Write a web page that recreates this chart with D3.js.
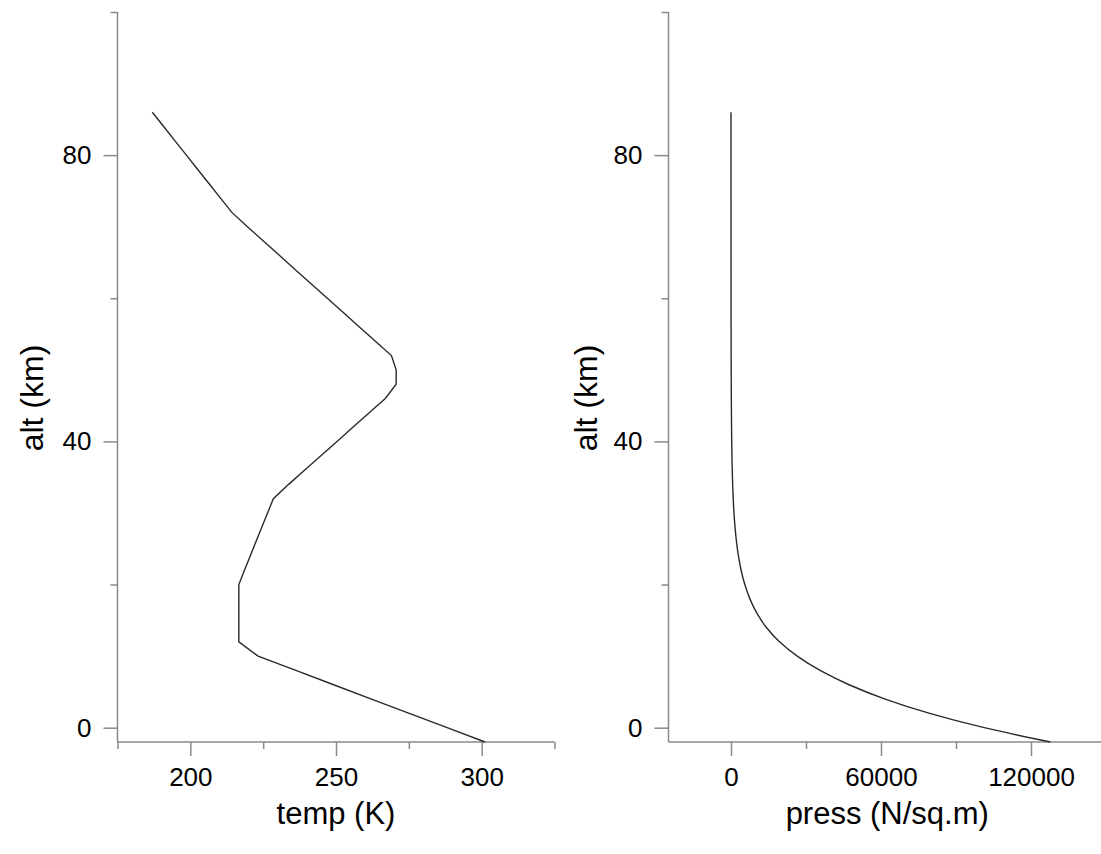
<!DOCTYPE html>
<html>
<head>
<meta charset="utf-8">
<script src="https://cdn.jsdelivr.net/npm/d3@7"></script>
<style>
  html, body { margin: 0; padding: 0; background: #fff; }
  svg { display: block; }
  text { font-family: "Liberation Sans", Arial, Helvetica, sans-serif; fill: #000; }
</style>
</head>
<body>
<svg id="chart" width="1101" height="854"></svg>
<script>
// ---- data (US standard atmosphere profile) ----
const altitude = [-2, 0, 2, 4, 6, 8, 10, 12, 14, 16, 18, 20, 22, 24, 26, 28, 30, 32, 34, 36, 38, 40, 42, 44, 46, 48, 50, 52, 54, 56, 58, 60, 62, 64, 66, 68, 70, 72, 74, 76, 78, 80, 82, 84, 86];
const temperature = [301.15, 288.15, 275.15, 262.17, 249.19, 236.22, 223.25, 216.65, 216.65, 216.65, 216.65, 216.65, 218.57, 220.56, 222.54, 224.53, 226.51, 228.49, 233.74, 239.28, 244.82, 250.35, 255.88, 261.40, 266.93, 270.65, 270.65, 269.03, 263.52, 258.02, 252.52, 247.02, 241.53, 236.04, 230.55, 225.07, 219.59, 214.26, 210.35, 206.45, 202.54, 198.64, 194.74, 190.84, 186.95];
const pressure = [127780, 101325, 79501, 61662, 47220, 35650, 26500, 19400, 14170, 10353, 7565, 5529, 4047, 2972, 2188, 1616, 1197, 889, 663, 498, 377, 287, 220, 170, 131, 102, 80, 62, 48, 37, 29, 22, 16.6, 12.5, 9.3, 6.9, 5.2, 3.8, 2.8, 2.0, 1.4, 1.05, 0.75, 0.53, 0.37];

const altMajorTicks = [0, 40, 80];
const altMinorTicks = [20, 60, 100];
const tempMajorTicks = [200, 250, 300];
const tempMinorTicks = [175, 225, 275, 325];
const pressMajorTicks = [0, 60000, 120000];
const pressMinorTicks = [30000, 90000];

const svg = d3.select("#chart");
const axisColor = "#8a8a8a";
const lineColor = "#2a2a2a";

const yTop = 12, yBottom = 742;
const y = d3.scaleLinear().domain([-2, 100]).range([yBottom, yTop]);

const panels = [
  { x0: 117.5, x1: 554.5, domain: [175, 325], values: temperature,
    major: tempMajorTicks, minor: tempMinorTicks, title: "temp (K)",
    altTitleX: 43, curve: d3.curveLinear, fmt: d3.format("d") },
  { x0: 668.5, x1: 1106, domain: [-25000, 150000], values: pressure,
    major: pressMajorTicks, minor: pressMinorTicks, title: "press (N/sq.m)",
    altTitleX: 597, curve: d3.curveMonotoneY, fmt: d3.format("d") }
];

panels.forEach(p => {
  const x = d3.scaleLinear().domain(p.domain).range([p.x0, p.x1]);
  const g = svg.append("g");

  // y axis (left), major + minor
  const yMaj = g.append("g").attr("transform", `translate(${p.x0},0)`)
    .call(d3.axisLeft(y).tickValues(altMajorTicks).tickSize(14).tickPadding(12).tickFormat(d3.format("d")));
  const yMin = g.append("g").attr("transform", `translate(${p.x0},0)`)
    .call(d3.axisLeft(y).tickValues(altMinorTicks).tickSize(7).tickFormat(""));
  yMin.select(".domain").remove();

  // x axis (bottom), major + minor
  const xMaj = g.append("g").attr("transform", `translate(0,${yBottom})`)
    .call(d3.axisBottom(x).tickValues(p.major).tickSize(14).tickPadding(12).tickFormat(p.fmt));
  const xMin = g.append("g").attr("transform", `translate(0,${yBottom})`)
    .call(d3.axisBottom(x).tickValues(p.minor).tickSize(7).tickFormat(""));
  xMin.select(".domain").remove();

  [yMaj, yMin, xMaj, xMin].forEach(a => {
    a.selectAll(".domain").attr("stroke", axisColor).attr("stroke-width", 1.5);
    a.selectAll(".tick line").attr("stroke", axisColor).attr("stroke-width", 1.5);
    a.selectAll("text").attr("font-size", 26).attr("fill", "#000")
      .style("font-family", '"Liberation Sans", Arial, sans-serif');
  });
  // plain domain lines (no outer ticks)
  yMaj.select(".domain").attr("d", `M0,${yTop}V${yBottom}`);
  xMaj.select(".domain").attr("d", `M${p.x0},0H${p.x1}`);

  // curve
  const line = d3.line()
    .x((d, i) => x(p.values[i]))
    .y(d => y(d))
    .curve(p.curve);
  g.append("path")
    .datum(altitude)
    .attr("d", line)
    .attr("fill", "none")
    .attr("stroke", lineColor)
    .attr("stroke-width", 1.4);

  // titles
  g.append("text")
    .attr("x", (p.x0 + p.x1) / 2).attr("y", 824)
    .attr("text-anchor", "middle").attr("font-size", 31)
    .text(p.title);
  g.append("text")
    .attr("transform", `translate(${p.altTitleX},398) rotate(-90)`)
    .attr("text-anchor", "middle").attr("font-size", 32)
    .text("alt (km)");
});
</script>
</body>
</html>
